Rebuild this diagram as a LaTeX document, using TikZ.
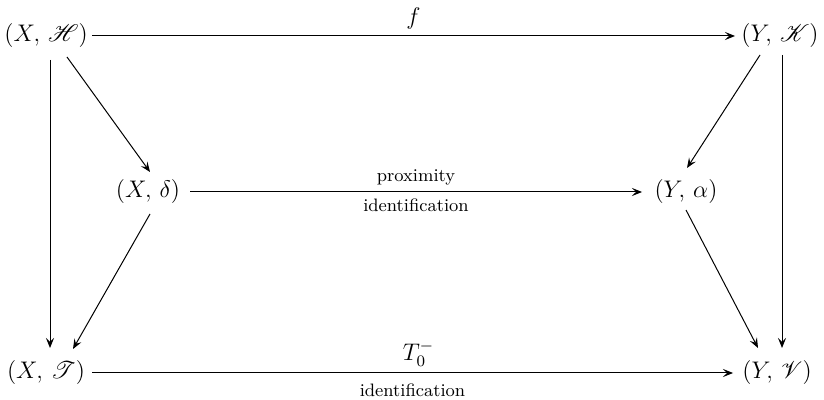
\documentclass[tikz,border=0pt]{standalone}
\usepackage{amsmath}
\usepackage{mathrsfs}
\usetikzlibrary{arrows.meta,calc}

\tikzset{
  obj/.style={inner sep=0pt, font=\large},
  map/.style={line width=0.5pt, -{Stealth[length=5pt,width=4pt,inset=2pt]}},
  lbl/.style={font=\small, inner sep=3pt},
  mlbl/.style={font=\large, inner sep=3pt}
}

\begin{document}
\begin{tikzpicture}[x=0.5pt,y=-0.5pt]
  \useasboundingbox (0,0) rectangle (824,400);

  % objects
  \node[obj] (XH) at (46,36)   {$(X,\,\mathscr{H})$};
  \node[obj] (YK) at (780,36)  {$(Y,\,\mathscr{K})$};
  \node[obj] (Xd) at (148,192) {$(X,\,\delta)$};
  \node[obj] (Ya) at (686,192) {$(Y,\,\alpha)$};
  \node[obj] (XT) at (46,373)  {$(X,\,\mathscr{T})$};
  \node[obj] (YV) at (777,373) {$(Y,\,\mathscr{V})$};

  % horizontal maps
  \draw[map] ($(XH)+(46,0)$) -- node[mlbl,midway,above] {$f$} ($(YK)+(-45,0)$);
  \draw[map] ($(Xd)+(42,0)$) --
      node[lbl,midway,above] {proximity}
      node[lbl,midway,below] {identification} ($(Ya)+(-44,0)$);
  \draw[map] ($(XT)+(46,0)$) --
      node[mlbl,midway,above,xshift=3pt] {$T_0^-$}
      node[lbl,midway,below,yshift=-2pt] {identification} ($(YV)+(-44,0)$);

  % left side
  \draw[map] ($(XH)+(4,24)$)  -- ($(XT)+(4,-25)$);
  \draw[map] ($(XH)+(21,21)$) -- ($(Xd)+(2,-20)$);
  \draw[map] ($(Xd)+(2,22)$)  -- ($(XT)+(27,-24)$);

  % right side
  \draw[map] ($(YK)+(2,19)$)   -- ($(YV)+(5,-25)$);
  \draw[map] ($(YK)+(-20,19)$) -- ($(Ya)+(1,-24)$);
  \draw[map] ($(Ya)+(0,18)$)   -- ($(YV)+(-19,-25)$);
\end{tikzpicture}
\end{document}
